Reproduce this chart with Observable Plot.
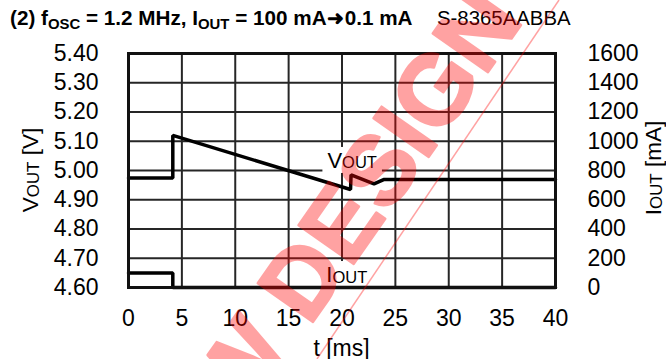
<!DOCTYPE html>
<html><head><meta charset="utf-8">
<script src="https://cdn.jsdelivr.net/npm/d3@7"></script>
<script src="https://cdn.jsdelivr.net/npm/@observablehq/plot@0.6"></script>
<style>
body{margin:0;background:#fff}
#chart{position:relative;width:666px;height:359px;overflow:hidden}
</style>
</head><body><div id="chart"></div>
<script>
// ---- data ----
const timeV = [0, 4.15, 4.15, 20.8, 20.85, 23.0, 23.9, 40];
const vout  = [4.974, 4.974, 5.12, 4.935, 4.985, 4.954, 4.969, 4.969];
const timeI = [0, 4.15, 4.15, 40];
const iout  = [100, 100, 0.1, 0.1];
const xTicks = [0, 5, 10, 15, 20, 25, 30, 35, 40];
const vTicks = [4.6, 4.7, 4.8, 4.9, 5.0, 5.1, 5.2, 5.3, 5.4];
const iTicks = [0, 200, 400, 600, 800, 1000, 1200, 1400, 1600];
const seriesLabels = [
  {main: "V", sub: "OUT", t: 21.0, v: 5.007},
  {main: "I", sub: "OUT", t: 20.5, v: 4.617}
];
const titleParts = [
  {text: "(2) f"}, {text: "OSC", sub: true}, {text: " = 1.2 MHz, I"}, {text: "OUT", sub: true},
  {text: " = 100 mA\u279C0.1 mA"}
];
const partNumber = "S-8365AABBA";

// right axis (mA) mapped onto the left axis (V)
const vMin = 4.6, vMax = 5.4, iMax = 1600;
const iToV = i => vMin + i * (vMax - vMin) / iMax;
const vToI = v => (v - vMin) * iMax / (vMax - vMin);

const vData = timeV.map((t, k) => ({t, v: vout[k]}));
const iData = timeI.map((t, k) => ({t, v: iToV(iout[k])}));

const FS = 23;
const plot = Plot.plot({
  width: 666, height: 359,
  marginLeft: 128, marginRight: 111, marginTop: 53, marginBottom: 72,
  style: {fontFamily: "'Liberation Sans', Arial, sans-serif", fontSize: FS + "px", color: "#000", background: "#fff", overflow: "visible"},
  x: {domain: [0, 40]},
  y: {domain: [vMin, vMax]},
  marks: [
    Plot.gridX(xTicks, {stroke: "#262626", strokeOpacity: 1, strokeWidth: 2}),
    Plot.gridY(vTicks, {stroke: "#262626", strokeOpacity: 1, strokeWidth: 2}),
    Plot.axisX(xTicks, {tickSize: 0, tickPadding: 22, label: null, fontSize: FS}),
    Plot.axisY(vTicks, {anchor: "left", tickSize: 0, tickPadding: 30, tickFormat: d => d.toFixed(2), label: null, fontSize: FS}),
    Plot.axisY(iTicks.map(iToV), {anchor: "right", tickSize: 0, tickPadding: 32, tickFormat: v => String(Math.round(vToI(v))), label: null, fontSize: FS})
  ]
});
document.getElementById("chart").appendChild(plot);

const svg = d3.select(plot);
const sx = plot.scale("x"), sy = plot.scale("y");

function subText(parent, x, y, parts, size, opts = {}) {
  const t = parent.append("text")
    .attr("font-size", size)
    .attr("font-weight", opts.weight || "normal")
    .attr("text-anchor", opts.anchor || "start")
    .attr("fill", "#000");
  if (opts.rotate) t.attr("transform", `translate(${x},${y}) rotate(${opts.rotate})`);
  else t.attr("x", x).attr("y", y);
  const shift = opts.shift || 0;
  parts.forEach(p => {
    const s = t.append("tspan").text(p.text);
    if (p.sub) s.attr("font-size", size * (opts.subScale || 0.72)).attr("dy", shift);
    else if (p.after) s.attr("dy", -shift);
  });
  return t;
}
function mark(parts) {
  return parts.map((p, i) => ({...p, after: i > 0 && parts[i - 1].sub}));
}

// series labels with white background boxes (inserted behind the lines)
const labelLayer = svg.append("g");
seriesLabels.forEach(l => {
  const t = subText(labelLayer, sx.apply(l.t), sy.apply(l.v), mark([{text: l.main}, {text: l.sub, sub: true}]), 22, {anchor: "middle", shift: 0.5, subScale: 0.75});
  const b = t.node().getBBox();
  labelLayer.insert("rect", "text").attr("x", b.x - 5).attr("y", b.y - 1).attr("width", b.width + 10).attr("height", b.height + 1).attr("fill", "#fff");
});

// data lines and frame drawn on top
const overlay = Plot.plot({
  width: 666, height: 359,
  marginLeft: 128, marginRight: 111, marginTop: 53, marginBottom: 72,
  x: {domain: [0, 40], axis: null}, y: {domain: [vMin, vMax], axis: null},
  marks: [
    Plot.line(vData, {x: "t", y: "v", stroke: "#000", strokeWidth: 3.5, strokeLinejoin: "miter"}),
    Plot.line(iData, {x: "t", y: "v", stroke: "#000", strokeWidth: 3.5, strokeLinejoin: "miter"}),
    Plot.frame({stroke: "#111", strokeWidth: 3})
  ]
});
d3.select(overlay).selectAll(":scope > g, :scope > path, :scope > rect").each(function() { plot.appendChild(this); });

// title (horizontally condensed to the reference's width)
function fitWidth(t, x, y, w) {
  t.attr("x", 0).attr("y", 0);
  const len = t.node().getBBox().width;
  t.attr("transform", `translate(${x},${y}) scale(${w / len},1)`);
}
const title = subText(svg, 0, 0, mark(titleParts), 20.5, {weight: "bold", shift: 4, subScale: 0.72});
fitWidth(title, 10, 25, 403);
const pn = svg.append("text").attr("font-size", 20.5).attr("fill", "#000").attr("text-anchor", "start").text(partNumber);
fitWidth(pn, 437, 25, 134);

// axis titles
subText(svg, 38, 170, mark([{text: "V"}, {text: "OUT", sub: true}, {text: " [V]"}]), 22.5, {anchor: "middle", rotate: -90, shift: 0.5, subScale: 0.75});
subText(svg, 661, 168, mark([{text: "I"}, {text: "OUT", sub: true}, {text: " [mA]"}]), 22.5, {anchor: "middle", rotate: -90, shift: 0.5, subScale: 0.75});
svg.append("text").attr("x", (sx.range[0] + sx.range[1]) / 2).attr("y", 356).attr("text-anchor", "middle").attr("font-size", 23).attr("fill", "#000").text("t [ms]");

// watermark
const wm = svg.append("g").attr("pointer-events", "none").attr("opacity", 0.36);
wm.append("text").attr("transform", "translate(497,0) rotate(-55)")
  .attr("text-anchor", "end").attr("dominant-baseline", "central")
  .attr("font-size", 98).attr("font-weight", "bold")
  .attr("fill", "#ff0000").attr("stroke", "#ff0000").attr("stroke-width", 2.5)
  .attr("stroke-linejoin", "round").text("NEW DESIGN");
wm.append("line").attr("x1", 559).attr("y1", 0).attr("x2", 317).attr("y2", 359)
  .attr("stroke", "#ff0000").attr("stroke-width", 1.5);
</script>
</body></html>
